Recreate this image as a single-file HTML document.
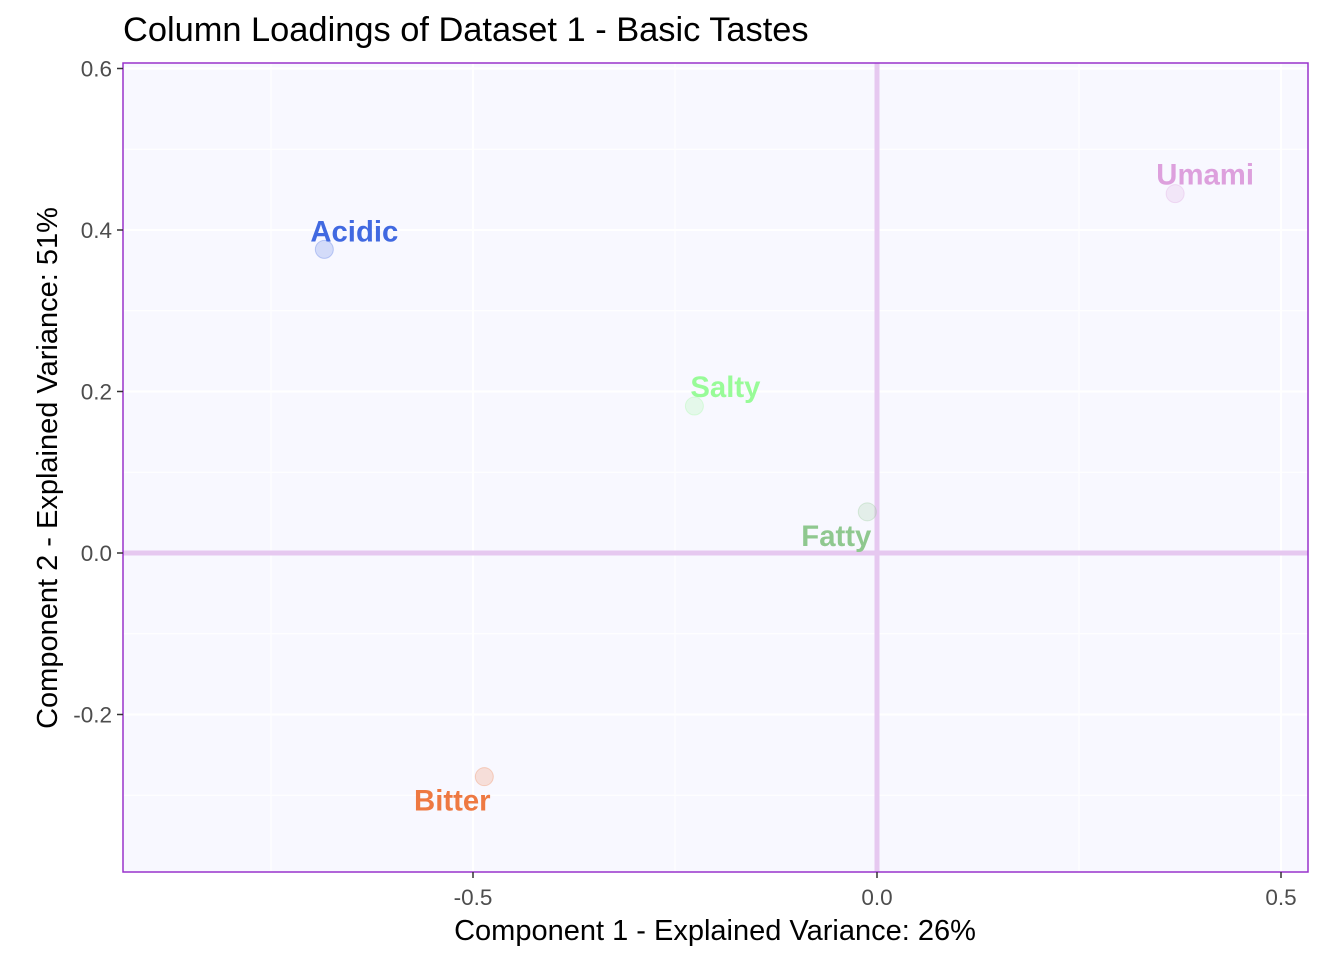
<!DOCTYPE html>
<html><head><meta charset="utf-8">
<style>
body{margin:0;background:#fff;}
svg{display:block;font-family:"Liberation Sans",sans-serif;}
</style></head>
<body>
<svg id="chart" width="1344" height="960">
<text x="123" y="41" font-size="34.4" fill="#000">Column Loadings of Dataset 1 - Basic Tastes</text>
<rect x="123" y="63" width="1185" height="809" fill="#F8F8FF"/>
<g id="grid"></g>
<g id="zero"></g>
<g id="pts"></g>
<rect x="123" y="63" width="1185" height="809" fill="none" stroke="#9932CC" stroke-width="1.5"/>
<g id="axes"></g>
<text x="715" y="940" font-size="29" text-anchor="middle" fill="#000">Component 1 - Explained Variance: 26%</text>
<text transform="translate(57,468) rotate(-90)" font-size="29" text-anchor="middle" fill="#000">Component 2 - Explained Variance: 51%</text>
</svg>
<script>
const labels=["Acidic","Umami","Salty","Fatty","Bitter"];
const xVals=[-0.684,0.369,-0.226,-0.012,-0.486];
const yVals=[0.376,0.445,0.182,0.051,-0.277];
const xTicks=[-0.5,0,0.5];
const xTickLabels=["-0.5","0.0","0.5"];
const yTicks=[0.6,0.4,0.2,0,-0.2];
const yTickLabels=["0.6","0.4","0.2","0.0","-0.2"];
const xMinor=[-0.75,-0.25,0.25];
const yMinor=[0.5,0.3,0.1,-0.1,-0.3];
const colors=["#4169E1","#DDA0DD","#98FB98","#8FC88F","#EE7942"];
const lx=[30,30,31,-31,-32], ly=[-18,-19,-19,24,24];
const X=v=>877+v*808, Y=v=>553-v*807.5;
const NS="http://www.w3.org/2000/svg";
function mk(p,t,a){const e=document.createElementNS(NS,t);for(const k in a)e.setAttribute(k,a[k]);p.appendChild(e);return e;}
const g=document.getElementById('grid'),z=document.getElementById('zero'),pg=document.getElementById('pts'),ax=document.getElementById('axes');
xMinor.forEach(v=>{const l=mk(g,'line',{x1:X(v),x2:X(v),y1:63,y2:872,stroke:'#fff','stroke-width':1});

});
yMinor.forEach(v=>{const l=mk(g,'line',{x1:123,x2:1308,y1:Y(v),y2:Y(v),stroke:'#fff','stroke-width':1});

});
xTicks.forEach((v,i)=>{const l=mk(g,'line',{x1:X(v),x2:X(v),y1:63,y2:872,stroke:'#fff','stroke-width':2});


const t=mk(ax,'line',{x1:X(v),x2:X(v),y1:872,y2:878,stroke:'#333','stroke-width':1.5});


const tx=mk(ax,'text',{x:X(v),y:905,'font-size':22.5,'text-anchor':'middle',fill:'#4d4d4d'});tx.textContent=xTickLabels[i];

});
yTicks.forEach((v,i)=>{const l=mk(g,'line',{x1:123,x2:1308,y1:Y(v),y2:Y(v),stroke:'#fff','stroke-width':2});


const t=mk(ax,'line',{x1:117,x2:123,y1:Y(v),y2:Y(v),stroke:'#333','stroke-width':1.5});


const tx=mk(ax,'text',{x:112,y:Y(v)+8,'font-size':22.5,'text-anchor':'end',fill:'#4d4d4d'});tx.textContent=yTickLabels[i];

});
const zv=mk(z,'line',{x1:X(0),x2:X(0),y1:63,y2:872,stroke:'#E6C8F0','stroke-width':5});


const zh=mk(z,'line',{x1:123,x2:1308,y1:Y(0),y2:Y(0),stroke:'#E6C8F0','stroke-width':5});


labels.forEach((n,i)=>{const cx=X(xVals[i]),cy=Y(yVals[i]);
const c=mk(pg,'circle',{cx:cx,cy:cy,r:9,fill:colors[i],'fill-opacity':0.2,stroke:colors[i],'stroke-opacity':0.3});


const t=mk(pg,'text',{x:cx+lx[i],y:cy+ly[i]+10,'font-size':29.3,'font-weight':'bold','text-anchor':'middle',fill:colors[i]});t.textContent=n;

});
</script>
</body></html>
